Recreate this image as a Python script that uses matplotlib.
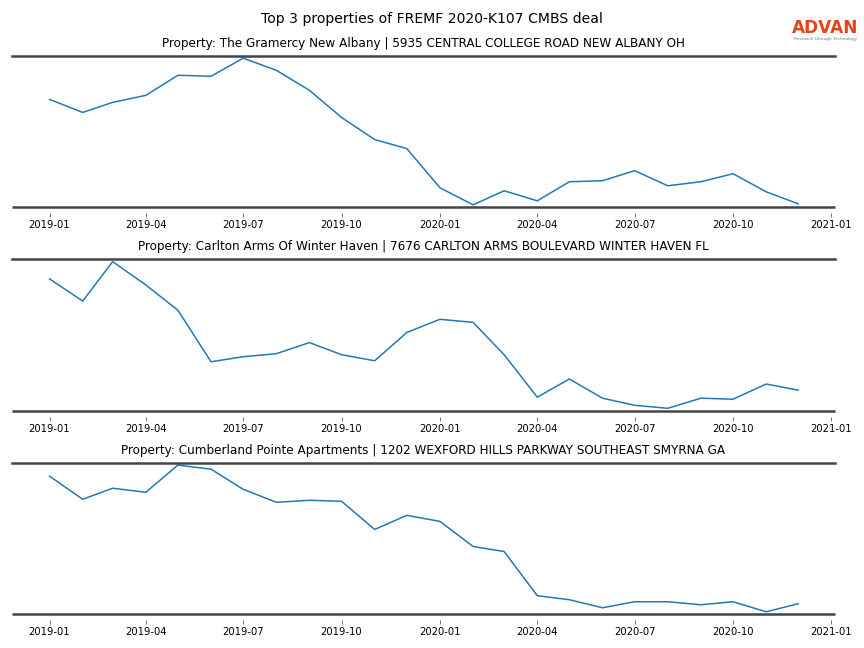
import matplotlib
matplotlib.use("Agg")
import matplotlib.pyplot as plt
import matplotlib.dates as mdates
import pandas as pd

# monthly index values per property (no y-axis shown, relative scale)
months = pd.date_range("2019-01-01", "2020-12-01", freq="MS")

titles = [
	"Property: The Gramercy New Albany | 5935 CENTRAL COLLEGE ROAD NEW ALBANY OH",
	"Property: Carlton Arms Of Winter Haven | 7676 CARLTON ARMS BOULEVARD WINTER HAVEN FL",
	"Property: Cumberland Pointe Apartments | 1202 WEXFORD HILLS PARKWAY SOUTHEAST SMYRNA GA",
]

gramercy = [106, 93, 103, 110, 130, 129, 147, 135, 115, 88, 66, 57,
	18, 1, 15, 5, 24, 25, 35, 20, 24, 32, 14, 2]
carlton = [131, 109, 148, 125, 100, 49, 54, 57, 68, 56, 50, 78,
	91, 88, 56, 14, 32, 13, 6, 3, 13, 12, 27, 21]
cumberland = [136, 113, 124, 120, 147, 143, 123, 110, 112, 111, 83, 97,
	91, 66, 61, 17, 13, 5, 11, 11, 8, 11, 1, 9]

series = [gramercy, carlton, cumberland]

fig, axes = plt.subplots(3, 1, figsize=(12, 9), dpi=72)
fig.subplots_adjust(left=0.014, right=0.966, top=0.9136, bottom=0.0525, hspace=0.347)
fig.suptitle("Top 3 properties of FREMF 2020-K107 CMBS deal", fontsize=14, y=0.982)

for ax, title, vals in zip(axes, titles, series):
	ax.plot(months, vals, color="#1f77b4", lw=1.5)
	ax.set_title(title, fontsize=12, pad=9)
	lo, hi = min(vals), max(vals)
	pad = (hi - lo) * 0.015
	ax.set_ylim(lo - pad, hi + pad)
	ax.set_xlim(pd.Timestamp("2018-11-27"), pd.Timestamp("2021-01-04"))
	ax.xaxis.set_major_locator(mdates.MonthLocator(bymonth=[1, 4, 7, 10]))
	ax.xaxis.set_major_formatter(mdates.DateFormatter("%Y-%m"))
	ax.set_yticks([])
	for side in ["left", "right"]:
		ax.spines[side].set_visible(False)
	ax.spines["top"].set_color("#444444")
	ax.spines["top"].set_linewidth(2.5)
	# ticks sit a bit below the dark base line
	ax.spines["bottom"].set_position(("outward", 6))
	ax.spines["bottom"].set_color("none")
	ax.plot([0, 1], [0, 0], transform=ax.transAxes, color="#444444", lw=2.5,
		clip_on=False, solid_capstyle="butt")
	ax.tick_params(axis="x", length=4, width=0.8, color="#555555", labelsize=10, pad=3)

# logo in the top right corner
fig.text(0.9555, 0.957, "ADVAN", color="#e0451b", fontsize=17, fontweight="bold",
	ha="center", va="center")
fig.text(0.9555, 0.9405, "Research through Technology", color="#777777", fontsize=4.3,
	ha="center", va="center")

fig.savefig("out.png", dpi=72)
